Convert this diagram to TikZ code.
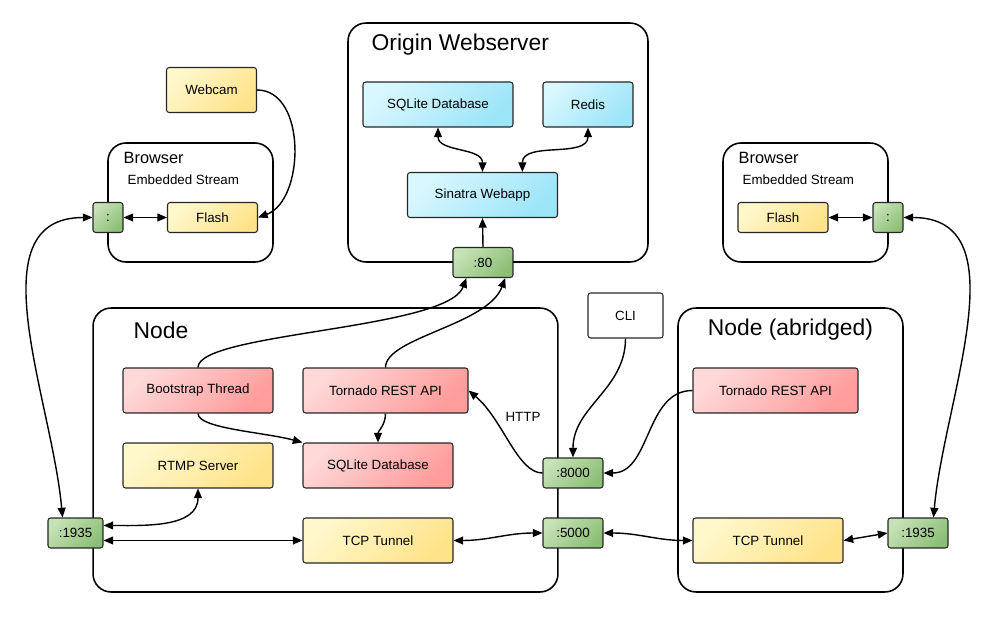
\documentclass[tikz,border=0pt]{standalone}
\usepackage{fontspec}
\setmainfont{Liberation Sans}
\usetikzlibrary{arrows.meta}

\definecolor{yellowA}{HTML}{FFF8CC}
\definecolor{yellowB}{HTML}{FFE38A}
\definecolor{redA}{HTML}{FFD8D8}
\definecolor{redB}{HTML}{FF9C9C}
\definecolor{blueA}{HTML}{D8F7FF}
\definecolor{blueB}{HTML}{9DE5F8}
\definecolor{greenA}{HTML}{C6E2B6}
\definecolor{greenB}{HTML}{8CBF76}

\begin{document}
\begin{tikzpicture}
	[x=0.02cm, y=0.02cm, thick, >={Triangle[length=5.5pt,width=4.5pt]},
	group/.style = {draw, rounded corners=0.36cm, line width=0.9pt},
	box/.style = {draw=black!85, semithick, rounded corners=1.5pt,
	minimum width=3cm, minimum height=0.9cm, inner sep=1pt,
	font=\fontsize{7.6}{9}\selectfont},
	yellowbox/.style = {box, top color=yellowA, bottom color=yellowB, shading angle=45},
	redbox/.style = {box, top color=redA, bottom color=redB, shading angle=45},
	bluebox/.style = {box, top color=blueA, bottom color=blueB, shading angle=45},
	port/.style = {box, minimum width=1.2cm, minimum height=0.6cm,
	top color=greenA, bottom color=greenB, shading angle=45},
	title/.style = {inner sep=0, font=\fontsize{13}{15}\selectfont},
	subtitle/.style = {inner sep=0, font=\fontsize{9.3}{11}\selectfont},
	caption/.style = {inner sep=0, font=\fontsize{7.6}{9}\selectfont}]
	\useasboundingbox (0,0) rectangle (992,623);

	% containers
	\node[group, minimum width=6cm, minimum height=4.78cm] (origin) at (498,480.5) {};
	\node[group, minimum width=3.3cm, minimum height=2.38cm] (lbrowser) at (190.5,420.5) {};
	\node[group, minimum width=3.3cm, minimum height=2.38cm] (rbrowser) at (805.5,420.5) {};
	\node[group, minimum width=9.3cm, minimum height=5.68cm] (nodebox) at (325.5,173) {};
	\node[group, minimum width=4.5cm, minimum height=5.68cm] (abridged) at (790.5,173) {};

	\node[title, anchor=west] (origintitle) at (371,578) {Origin Webserver};
	\node[title, anchor=west] (nodetitle) at (133,293) {Node};
	\node[title] (abridgedtitle) at (790.5,293) {Node (abridged)};
	\node[subtitle, anchor=west] (lbrowsertitle) at (123,465) {Browser};
	\node[caption, anchor=west] (lstream) at (127,443) {Embedded Stream};
	\node[subtitle, anchor=west] (rbrowsertitle) at (738,465) {Browser};
	\node[caption, anchor=west] (rstream) at (742,443) {Embedded Stream};

	% origin webserver
	\node[bluebox] (osql) at (438,518.5) {SQLite Database};
	\node[bluebox, minimum width=1.8cm] (redis) at (588,518.5) {Redis};
	\node[bluebox] (sinatra) at (482.5,428) {Sinatra Webapp};
	\node[port] (p80) at (483,360.5) {:80};

	% browsers
	\node[yellowbox, minimum width=1.8cm] (webcam) at (211.5,533) {Webcam};
	\node[yellowbox, minimum width=1.8cm, minimum height=0.6cm] (lflash) at (212.5,405.5) {Flash};
	\node[port, minimum width=0.6cm] (lcolon) at (108,405.5) {:};
	\node[yellowbox, minimum width=1.8cm, minimum height=0.6cm] (rflash) at (783,405.5) {Flash};
	\node[port, minimum width=0.6cm] (rcolon) at (888,405.5) {:};

	% node
	\node[redbox] (boot) at (198,232.5) {Bootstrap Thread};
	\node[redbox, minimum width=3.3cm] (tornado) at (385.5,232.5) {Tornado REST API};
	\node[yellowbox] (rtmp) at (198,157.5) {RTMP Server};
	\node[redbox] (nsql) at (378,157.5) {SQLite Database};
	\node[yellowbox] (tcp) at (378,82.5) {TCP Tunnel};
	\node[port, minimum width=1.1cm] (p1935) at (75.5,90) {:1935};
	\node[port] (p8000) at (573,150) {:8000};
	\node[port] (p5000) at (573,90) {:5000};
	\node[box, fill=white, minimum width=1.5cm] (cli) at (625.5,307.5) {CLI};
	\node[caption] (http) at (523,206) {HTTP};

	% node (abridged)
	\node[redbox, minimum width=3.3cm] (atornado) at (775.5,232.5) {Tornado REST API};
	\node[yellowbox] (atcp) at (768,82.5) {TCP Tunnel};
	\node[port] (rp1935) at (918,90) {:1935};

	\draw[->] (webcam.east) to[out=0,in=20] (lflash.east);
	\draw[<->] (lcolon.east) -- (lflash.west);
	\draw[<->] (p1935.130) to[out=95,in=180] (lcolon.west);
	\draw[<->] (rflash.east) -- (rcolon.west);
	\draw[<->] (rcolon.east) to[out=0,in=85] (rp1935.45);
	\draw[<->] (osql.south) to[out=-90,in=90] (sinatra.north);
	\draw[<->] (redis.south) to[out=-90,in=90] (sinatra.30);
	\draw[->] (p80.north) -- (sinatra.south);
	\draw[->] (boot.north) to[out=90,in=-110,out distance=0.7cm,in distance=1.1cm] (p80.-137);
	\draw[->] (tornado.north) to[out=90,in=-110,out distance=0.6cm,in distance=1cm] (p80.-35);
	\draw[->] (boot.south) to[out=-90,in=165,out distance=0.3cm,in distance=0.8cm] (nsql.north west);
	\draw[->] (tornado.south) to[out=-90,in=90] (nsql.north);
	\draw[->] (p8000.west) to[out=180,in=-40,out distance=0.5cm,in distance=0.9cm] (tornado.east);
	\draw[<->] (rtmp.south) to[out=-90,in=0] (p1935.15);
	\draw[<->] (p1935.east |- tcp.west) -- (tcp.west);
	\draw[<->] (tcp.east) to[out=0,in=180] (p5000.west);
	\draw[->] (cli.south) to[out=-90,in=90] (p8000.north);
	\draw[->] (atornado.west) to[out=180,in=0] (p8000.east);
	\draw[<->] (p5000.east) to[out=0,in=180] (atcp.west);
	\draw[<->] (atcp.east) -- (rp1935.west);
\end{tikzpicture}
\end{document}
